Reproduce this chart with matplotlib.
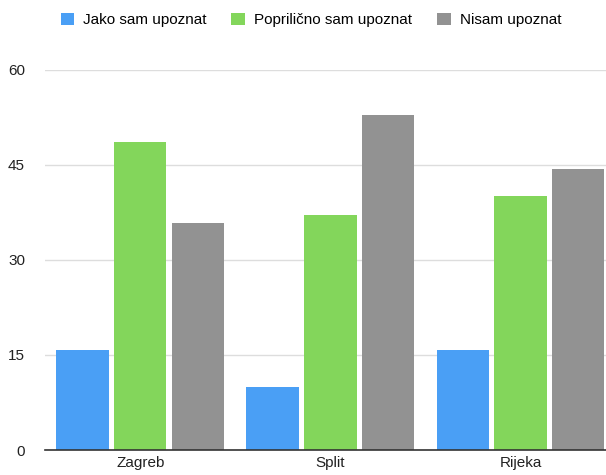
import matplotlib
matplotlib.use('Agg')
import numpy as np
from matplotlib import pyplot as plt
from matplotlib.patches import Patch

# chart data
cities = ['Zagreb', 'Split', 'Rijeka']
series_names = ['Jako sam upoznat', 'Poprilično sam upoznat', 'Nisam upoznat']
jako = [15.8, 10.0, 15.8]
prilicno = [48.6, 37.1, 40.1]
nisam = [35.8, 52.9, 44.4]
y_ticks = [0, 15, 30, 45, 60]

colors = ['#4A9FF5', '#83D65B', '#929292']

plt.rcParams['font.family'] = ['Liberation Sans', 'DejaVu Sans']

fig = plt.figure(figsize=(6.06, 4.75), dpi=100)
ax = fig.add_axes([44.5 / 606, 1 - 450 / 475, 1 - 44.5 / 606, 380 / 475])

# grouped bars, one offset per series
x = np.arange(len(cities))
bar_w = 0.274
step = 0.305
for i, vals in enumerate([jako, prilicno, nisam]):
    ax.bar(x + (i - 1) * step, vals, width=bar_w, color=colors[i], zorder=3)

ax.set_xlim(-0.505, 2.45)
ax.set_ylim(0, 60)
ax.set_yticks(y_ticks)
ax.set_yticklabels([str(t) for t in y_ticks], fontsize=11, color='#222222')
ax.set_xticks(x)
ax.set_xticklabels(cities, fontsize=11, color='#222222')
ax.tick_params(axis='y', length=0, pad=14)
ax.tick_params(axis='x', length=0, pad=4)
ax.grid(axis='y', color='#DDDDDD', linewidth=1, zorder=0)
for side in ['top', 'right', 'left']:
    ax.spines[side].set_visible(False)
ax.spines['bottom'].set_color('#333333')
ax.spines['bottom'].set_linewidth(1.2)
ax.spines['bottom'].set_zorder(4)

# legend across the top
handles = [Patch(facecolor=c, edgecolor='none') for c in colors]
fig.legend(handles, series_names, loc='center', bbox_to_anchor=(0.513, 0.958),
           ncol=3, frameon=False, fontsize=11, handlelength=0.9, handleheight=0.9,
           handletextpad=0.6, columnspacing=1.6)

fig.savefig('out.png', dpi=100)
